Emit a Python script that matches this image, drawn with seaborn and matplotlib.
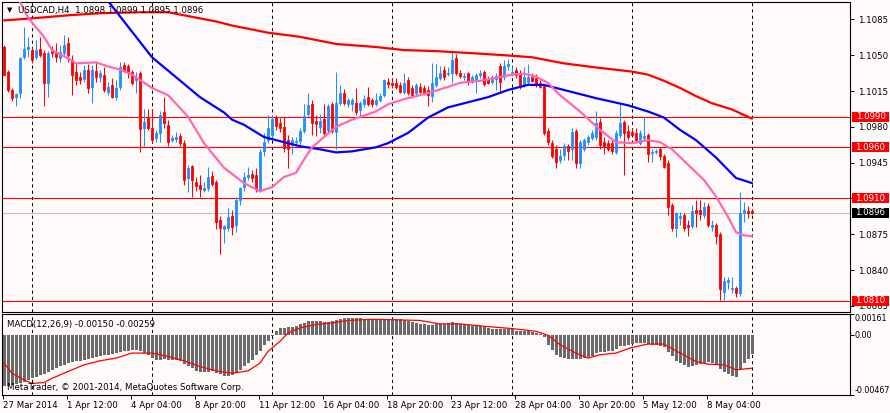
import numpy as np
import pandas as pd
import matplotlib
matplotlib.use("Agg")
import matplotlib.pyplot as plt
import seaborn as sns
from matplotlib.patches import Rectangle
from matplotlib.transforms import blended_transform_factory

# ---------------- data ----------------
opens = [1.1058,1.1034,1.1016,1.1009,1.1013,1.1048,1.1056,1.1055,1.1048,1.1056,
         1.1052,1.1023,1.1054,1.1052,1.1047,1.1052,1.1062,1.1045,1.1034,1.1029,
         1.1027,1.1036,1.1019,1.1035,1.1029,1.1031,1.1014,1.1021,1.1009,1.1019,
         1.1040,1.1039,1.1034,1.1026,1.1033,1.0979,1.0989,1.0979,1.0969,1.0974,
         1.0994,1.0982,1.0967,1.0968,1.0971,1.0964,1.0930,1.0942,1.0926,1.0923,
         1.0918,1.0920,1.0932,1.0926,1.0889,1.0880,1.0881,1.0893,1.0884,1.0908,
         1.0921,1.0931,1.0934,1.0933,1.0918,1.0956,1.0967,1.0972,1.0990,1.0984,
         1.0980,1.0967,1.0962,1.0965,1.0966,1.0976,1.0993,1.1002,1.0986,1.0980,
         1.0988,1.0977,1.1002,1.0975,1.1003,1.1013,1.1002,1.1002,1.1003,1.0996,
         1.1002,1.1009,1.1006,1.1002,1.1006,1.1011,1.1024,1.1023,1.1023,1.1021,
         1.1014,1.1026,1.1018,1.1013,1.1019,1.1018,1.1016,1.1010,1.1021,1.1028,
         1.1036,1.1032,1.1033,1.1047,1.1033,1.1029,1.1033,1.1024,1.1026,1.1031,
         1.1034,1.1027,1.1024,1.1027,1.1039,1.1029,1.1039,1.1033,1.1036,1.1033,
         1.1021,1.1024,1.1029,1.1028,1.1023,1.1020,1.0976,1.0964,1.0958,1.0948,
         1.0952,1.0961,1.0958,1.0976,1.0945,1.0958,1.0965,1.0969,1.0970,1.0985,
         1.0965,1.0964,1.0964,1.0955,1.0972,1.0985,1.0976,1.0975,1.0974,1.0964,
         1.0969,1.0972,1.0954,1.0955,1.0958,1.0951,1.0945,1.0904,1.0881,1.0891,
         1.0894,1.0884,1.0883,1.0899,1.0899,1.0894,1.0903,1.0882,1.0884,1.0875,
         1.0819,1.0828,1.0821,1.0822,1.0818,1.0896,1.0898,1.0898]
highs = [1.1060,1.1036,1.1018,1.1013,1.1048,1.1078,1.1068,1.1058,1.1065,1.1068,
         1.1055,1.1054,1.1059,1.1062,1.1060,1.1070,1.1068,1.1050,1.1041,1.1034,
         1.1040,1.1041,1.1040,1.1043,1.1036,1.1038,1.1024,1.1028,1.1026,1.1043,
         1.1043,1.1041,1.1036,1.1034,1.1035,1.0997,1.0997,1.0997,1.0977,1.0995,
         1.1009,1.0987,1.0972,1.0975,1.0974,1.0967,1.0943,1.0943,1.0931,1.0933,
         1.0926,1.0941,1.0937,1.0928,1.0893,1.0884,1.0901,1.0899,1.0911,1.0921,
         1.0936,1.0941,1.0938,1.0940,1.0958,1.0974,1.0992,1.0992,1.0992,1.0989,
         1.0990,1.0972,1.0970,1.0970,1.0979,1.1002,1.1013,1.1006,1.0992,1.0993,
         1.1002,1.1002,1.1004,1.1034,1.1021,1.1017,1.1008,1.1008,1.1018,1.1005,
         1.1011,1.1019,1.1008,1.1013,1.1013,1.1027,1.1028,1.1028,1.1028,1.1024,
         1.1033,1.1029,1.1021,1.1023,1.1023,1.1021,1.1020,1.1042,1.1041,1.1039,
         1.1039,1.1038,1.1053,1.1051,1.1036,1.1033,1.1034,1.1031,1.1033,1.1036,
         1.1036,1.1030,1.1031,1.1033,1.1042,1.1045,1.1046,1.1039,1.1038,1.1036,
         1.1038,1.1041,1.1033,1.1032,1.1026,1.1022,1.0979,1.0967,1.0962,1.0958,
         1.0964,1.0963,1.0979,1.0978,1.0967,1.0969,1.0972,1.0977,1.0995,1.0989,
         1.0970,1.0967,1.0967,1.0977,1.1002,1.0987,1.0982,1.0979,1.0979,1.0977,
         1.0990,1.0974,1.0958,1.0958,1.0960,1.0953,1.0948,1.0906,1.0897,1.0897,
         1.0896,1.0889,1.0904,1.0908,1.0908,1.0907,1.0906,1.0889,1.0886,1.0877,
         1.0833,1.0833,1.0833,1.0824,1.0916,1.0907,1.0903,1.0899]
lows = [1.1030,1.1014,1.1005,1.1000,1.1008,1.1046,1.1048,1.1042,1.1046,1.1048,
        1.1000,1.1009,1.1048,1.1043,1.1043,1.1050,1.1043,1.1011,1.1021,1.1022,
        1.1024,1.1013,1.1003,1.1024,1.1024,1.1014,1.1011,1.1008,1.1006,1.1016,
        1.1034,1.1028,1.1021,1.1013,1.0955,1.0961,1.0977,1.0965,1.0965,1.0965,
        1.0979,1.0961,1.0965,1.0965,1.0961,1.0923,1.0916,1.0911,1.0917,1.0911,
        1.0916,1.0917,1.0922,1.0880,1.0856,1.0866,1.0878,1.0874,1.0877,1.0904,
        1.0917,1.0928,1.0926,1.0916,1.0916,1.0951,1.0964,1.0969,1.0977,1.0975,
        1.0955,1.0940,1.0953,1.0961,1.0962,1.0974,1.0989,1.0972,1.0971,1.0974,
        1.0972,1.0974,1.0974,1.0958,1.1001,1.1001,1.0999,1.0995,1.0992,1.0991,
        1.0999,1.1000,1.0999,1.1000,1.1004,1.1009,1.1018,1.1018,1.1017,1.1013,
        1.1012,1.1011,1.1008,1.1011,1.1013,1.1011,1.1000,1.1004,1.1019,1.1026,
        1.1026,1.1030,1.1023,1.1031,1.1028,1.1026,1.1021,1.1023,1.1013,1.1028,
        1.1020,1.1022,1.1022,1.1016,1.1013,1.1026,1.1036,1.1030,1.1028,1.1017,
        1.1019,1.1022,1.1024,1.1019,1.1018,1.0972,1.0962,1.0950,1.0940,1.0945,
        1.0948,1.0948,1.0948,1.0940,1.0940,1.0956,1.0962,1.0967,1.0967,1.0958,
        1.0953,1.0956,1.0953,1.0953,1.0969,1.0933,1.0967,1.0971,1.0964,1.0962,
        1.0967,1.0946,1.0946,1.0953,1.0948,1.0940,1.0894,1.0878,1.0872,1.0884,
        1.0878,1.0873,1.0881,1.0882,1.0889,1.0891,1.0882,1.0878,1.0865,1.0811,
        1.0811,1.0821,1.0818,1.0814,1.0815,1.0887,1.0891,1.0895]
closes = [1.1031,1.1016,1.1008,1.1012,1.1047,1.1056,1.1058,1.1045,1.1055,1.1050,
          1.1023,1.1052,1.1052,1.1048,1.1053,1.1060,1.1050,1.1031,1.1026,1.1026,
          1.1036,1.1018,1.1036,1.1029,1.1033,1.1016,1.1019,1.1009,1.1018,1.1038,
          1.1036,1.1034,1.1023,1.1029,1.0978,1.0985,1.0979,1.0967,1.0974,1.0992,
          1.0984,1.0965,1.0969,1.0970,1.0964,1.0928,1.0940,1.0928,1.0922,1.0919,
          1.0920,1.0931,1.0924,1.0887,1.0881,1.0883,1.0892,1.0882,1.0908,1.0920,
          1.0931,1.0933,1.0930,1.0919,1.0955,1.0965,1.0979,1.0988,1.0981,1.0979,
          1.0959,1.0958,1.0967,1.0966,1.0976,1.0991,1.1001,1.0984,1.0983,1.0986,
          1.0974,1.1000,1.0976,1.1003,1.1013,1.1003,1.1006,1.1006,1.0994,1.1003,
          1.1007,1.1002,1.1002,1.1006,1.1010,1.1026,1.1022,1.1021,1.1019,1.1014,
          1.1023,1.1013,1.1011,1.1021,1.1014,1.1013,1.1011,1.1023,1.1029,1.1033,
          1.1029,1.1033,1.1045,1.1033,1.1030,1.1030,1.1024,1.1029,1.1031,1.1033,
          1.1022,1.1023,1.1029,1.1030,1.1024,1.1039,1.1041,1.1034,1.1031,1.1019,
          1.1029,1.1029,1.1025,1.1021,1.1019,1.0974,1.0965,1.0951,1.0946,1.0951,
          1.0961,1.0956,1.0975,1.0945,1.0965,1.0967,1.0970,1.0974,1.0984,1.0962,
          1.0961,1.0958,1.0956,1.0974,1.0984,1.0974,1.0970,1.0972,1.0967,1.0974,
          1.0971,1.0953,1.0955,1.0956,1.0951,1.0941,1.0902,1.0881,1.0896,1.0893,
          1.0881,1.0882,1.0898,1.0896,1.0895,1.0902,1.0884,1.0884,1.0873,1.0821,
          1.0829,1.0830,1.0822,1.0818,1.0896,1.0899,1.0896,1.0896]

# moving averages, read at sample bars
red_ma_idx = [0,7,16,24,34,41,45,49,53,57,66,74,83,93,100,108,117,125,132,140,148,157,161,165,169,173,177,182,187]
red_ma_val = [1.1084,1.1086,1.1089,1.1091,1.1092,1.1092,1.1089,1.1086,1.1083,1.1079,1.1072,1.1068,1.1061,1.1058,
              1.1055,1.1054,1.1052,1.1050,1.1048,1.1042,1.1038,1.1034,1.1031,1.1025,1.1018,1.1010,1.1003,1.0997,1.0988]
blue_ma_idx = [22,26,32,37,41,45,49,55,57,60,65,70,74,79,83,87,93,96,101,106,111,116,121,126,131,135,140,148,156,161,165,169,173,178,183,187]
blue_ma_val = [1.1118,1.1103,1.1073,1.1048,1.1035,1.1022,1.1009,1.0994,1.0987,1.0982,1.0970,1.0965,1.0961,1.0958,
               1.0955,1.0956,1.0960,1.0964,1.0974,1.0989,1.0999,1.1004,1.1009,1.1016,1.1021,1.1021,1.1016,1.1008,
               1.1001,1.0995,1.0989,1.0977,1.0967,1.0950,1.0930,1.0925]
pink_ma_idx = [4,6,7,10,12,16,18,23,26,29,32,37,41,46,50,55,60,64,67,70,73,75,77,80,83,87,93,96,100,104,106,111,
               114,119,123,127,130,133,136,139,144,149,153,157,161,164,167,171,175,178,181,183,185,187]
pink_ma_val = [1.1102,1.1087,1.1082,1.1068,1.1055,1.1047,1.1042,1.1043,1.1039,1.1036,1.1031,1.1018,1.1011,1.0990,
               1.0964,1.0940,1.0925,1.0917,1.0921,1.0931,1.0935,1.0948,1.0960,1.0970,1.0980,1.0987,1.0995,1.1002,
               1.1007,1.1011,1.1013,1.1019,1.1023,1.1025,1.1028,1.1031,1.1032,1.1029,1.1023,1.1011,1.0995,1.0977,
               1.0965,1.0964,1.0967,1.0965,1.0958,1.0943,1.0928,1.0912,1.0892,1.0877,1.0874,1.0873]

# MACD main (histogram) per bar and signal at sample bars
macd_hist = [-0.00395,-0.00395,-0.00387,-0.00379,-0.00371,-0.00363,-0.00348,-0.00338,-0.00324,-0.00311,
             -0.00306,-0.00285,-0.00272,-0.00259,-0.00246,-0.00233,-0.00220,-0.00212,-0.00207,-0.00202,
             -0.00194,-0.00186,-0.00181,-0.00176,-0.00168,-0.00160,-0.00155,-0.00150,-0.00142,-0.00134,
             -0.00129,-0.00123,-0.00119,-0.00116,-0.00129,-0.00142,-0.00155,-0.00181,-0.00194,-0.00194,
             -0.00186,-0.00194,-0.00194,-0.00199,-0.00207,-0.00228,-0.00246,-0.00259,-0.00280,-0.00285,
             -0.00285,-0.00285,-0.00280,-0.00293,-0.00306,-0.00316,-0.00316,-0.00311,-0.00293,-0.00272,
             -0.00246,-0.00220,-0.00194,-0.00160,-0.00123,-0.00082,-0.00045,-0.00012,0.00033,0.00053,
             0.00053,0.00059,0.00059,0.00066,0.00080,0.00092,0.00105,0.00105,0.00105,0.00105,
             0.00100,0.00100,0.00105,0.00111,0.00119,0.00127,0.00131,0.00131,0.00127,0.00127,
             0.00119,0.00113,0.00113,0.00111,0.00111,0.00119,0.00123,0.00123,0.00123,0.00119,
             0.00111,0.00105,0.00098,0.00092,0.00087,0.00080,0.00074,0.00074,0.00080,0.00084,
             0.00087,0.00092,0.00098,0.00092,0.00087,0.00080,0.00072,0.00066,0.00066,0.00066,
             0.00059,0.00053,0.00048,0.00041,0.00041,0.00048,0.00048,0.00041,0.00033,0.00027,
             0.00027,0.00027,0.00022,0.00014,0.00006,-0.00020,-0.00077,-0.00116,-0.00155,-0.00176,
             -0.00181,-0.00186,-0.00189,-0.00189,-0.00186,-0.00181,-0.00176,-0.00163,-0.00142,-0.00134,
             -0.00134,-0.00129,-0.00123,-0.00108,-0.00090,-0.00084,-0.00077,-0.00072,-0.00064,-0.00064,
             -0.00064,-0.00069,-0.00077,-0.00077,-0.00084,-0.00098,-0.00134,-0.00168,-0.00202,-0.00220,
             -0.00238,-0.00252,-0.00246,-0.00233,-0.00225,-0.00220,-0.00215,-0.00220,-0.00233,-0.00264,
             -0.00291,-0.00306,-0.00316,-0.00324,-0.00265,-0.00220,-0.00185,-0.00150]
signal_idx = [0,2,5,7,10,12,16,20,24,28,32,37,41,45,49,53,57,61,64,66,69,71,74,78,82,86,91,94,104,109,114,120,
              127,133,136,139,143,146,149,153,157,161,165,169,173,176,180,183,187]
signal_val = [-0.00220,-0.00298,-0.00350,-0.00377,-0.00371,-0.00338,-0.00285,-0.00233,-0.00202,-0.00181,
              -0.00142,-0.00142,-0.00168,-0.00202,-0.00246,-0.00280,-0.00298,-0.00280,-0.00220,-0.00129,
              -0.00051,0.00014,0.00053,0.00080,0.00092,0.00111,0.00119,0.00119,0.00111,0.00084,0.00084,
              0.00066,0.00048,0.00027,-0.00004,-0.00077,-0.00142,-0.00181,-0.00155,-0.00142,-0.00098,
              -0.00072,-0.00072,-0.00142,-0.00207,-0.00228,-0.00233,-0.00272,-0.00259]

red_levels = [1.0990, 1.0960, 1.0910, 1.0810]
bid_level = 1.0896
price_ticks = [1.0805, 1.0840, 1.0875, 1.0910, 1.0945, 1.0980, 1.1015, 1.1050, 1.1085]
macd_ticks = [0.00161, 0.0, -0.00467]
macd_tick_labels = ["0.00161", "0.00", "-0.00467"]
date_labels = ["27 Mar 2014", "1 Apr 12:00", "4 Apr 04:00", "8 Apr 20:00", "11 Apr 12:00",
               "16 Apr 04:00", "18 Apr 20:00", "23 Apr 12:00", "28 Apr 04:00", "30 Apr 20:00",
               "5 May 12:00", "8 May 04:00"]
date_label_step = 16
grid_bars = [7, 37, 67, 97, 127, 157, 187]
header = "USDCAD,H4  1.0898 1.0899 1.0895 1.0896"
macd_title = "MACD(12,26,9) -0.00150 -0.00259"
copyright_text = "MetaTrader, \u00a9 2001-2014, MetaQuotes Software Corp."

# ---------------- styling ----------------
sns.set_theme(style="white")
plt.rcParams['font.family'] = ['DejaVu Sans']
BG = "#FFFAFA"
BULL = "#1E90FF"
BEAR = "#FF0000"
FS = 6.2

W, H = 890, 413
fig = plt.figure(figsize=(W / 100, H / 100), dpi=100, facecolor=BG)

def box(l, t, r, b):
    return [l / W, 1 - b / H, (r - l) / W, (b - t) / H]

ax = fig.add_axes(box(2, 2, 850, 312))
ax2 = fig.add_axes(box(2, 314, 850, 395))
for a in (ax, ax2):
    a.set_facecolor(BG)
    for s in a.spines.values():
        s.set_color("black")
        s.set_linewidth(0.8)
    a.set_xlim(-0.5, 211.5)
    a.grid(False)

df = pd.DataFrame({"o": opens, "h": highs, "l": lows, "c": closes})
df["i"] = np.arange(len(df))
df["bull"] = df["c"] >= df["o"]
cols = np.where(df["bull"], BULL, BEAR)

# wicks & bodies
ax.vlines(df["i"], df["l"], df["h"], colors=cols, linewidth=0.75, zorder=3)
ax.bar(df["i"], (df["c"] - df["o"]).abs(), bottom=df[["o", "c"]].min(axis=1),
       width=0.55, color=cols, edgecolor=cols, linewidth=0.6, zorder=3)

# horizontal levels
for lv in red_levels:
    ax.axhline(lv, color="#FF0000", linewidth=0.8, zorder=2)
ax.axhline(bid_level, color="#C0C0C0", linewidth=0.8, zorder=2)

# moving averages
sns.lineplot(x=red_ma_idx, y=red_ma_val, ax=ax, color="#FF0000", linewidth=1.6, zorder=4)
sns.lineplot(x=blue_ma_idx, y=blue_ma_val, ax=ax, color="#0000FF", linewidth=1.6, zorder=4)
sns.lineplot(x=pink_ma_idx, y=pink_ma_val, ax=ax, color="#FF69B4", linewidth=1.6, zorder=4)

ax.set_ylim(1.0799, 1.1102)
ax.set_xlabel("")
ax.set_ylabel("")

# MACD panel
ax2.bar(np.arange(len(macd_hist)), macd_hist, width=0.75, color="#6A6A6A", linewidth=0,
        antialiased=False, zorder=2)
sns.lineplot(x=signal_idx, y=signal_val, ax=ax2, color="#FF0000", linewidth=0.9, zorder=3)
ax2.set_ylim(-0.00467, 0.00161)
ax2.set_xlabel("")
ax2.set_ylabel("")

# vertical dashed grid
for g in grid_bars:
    for a in (ax, ax2):
        a.axvline(g, color="black", linewidth=0.75, linestyle=(0, (3, 3)), zorder=1)

# price axis on the right
ax.yaxis.tick_right()
ax.set_yticks(price_ticks)
ax.set_yticklabels([f"{t:.4f}" for t in price_ticks])
ax.tick_params(axis="y", which="both", right=True, left=False, direction="out", length=3,
               width=0.7, pad=2.5, labelsize=FS, colors="black")
ax.tick_params(axis="x", bottom=False, labelbottom=False)

ax2.yaxis.tick_right()
ax2.set_yticks(macd_ticks)
ax2.set_yticklabels(macd_tick_labels)
ax2.tick_params(axis="y", right=True, left=False, direction="out", length=3, width=0.7,
                pad=0.3, labelsize=5.8, colors="black")
ylabs = ax2.get_yticklabels()
ylabs[0].set_va("top")
ylabs[2].set_va("bottom")

xt = [k * date_label_step - 0.33 for k in range(len(date_labels))]
ax2.set_xticks(xt)
ax2.set_xticklabels(date_labels)
ax2.tick_params(axis="x", bottom=True, direction="out", length=3, width=0.7, pad=1.5,
                labelsize=FS, colors="black")
for lbl in ax2.get_xticklabels():
    lbl.set_ha("left")

# level tags on the price scale
trans = blended_transform_factory(ax.transAxes, ax.transData)
px_per_unit = 310 / (1.1102 - 1.0799)
half_h = 5.0 / px_per_unit
for lv, fc in [(l, "#FF0000") for l in red_levels] + [(bid_level, "black")]:
    ax.add_patch(Rectangle((1 + 2 / 848, lv - half_h), 37 / 848, 2 * half_h, transform=trans,
                           facecolor=fc, edgecolor="none", clip_on=False, zorder=6))
    ax.text(1 + 20.5 / 848, lv, f"{lv:.4f}", transform=trans, ha="center", va="center",
            color="white", fontsize=FS, clip_on=False, zorder=7)

# texts
fig.text(7 / W, 1 - 10 / H, "\u25bc", fontsize=5, va="center", ha="left", color="black")
fig.text(18 / W, 1 - 10.5 / H, header, fontsize=FS, va="center", ha="left", color="black")
fig.text(7 / W, 1 - 324 / H, macd_title, fontsize=FS, va="center", ha="left", color="black")
fig.text(7 / W, 1 - 388 / H, copyright_text, fontsize=FS, va="center", ha="left", color="black")

fig.savefig("out.png", dpi=100, facecolor=BG)
